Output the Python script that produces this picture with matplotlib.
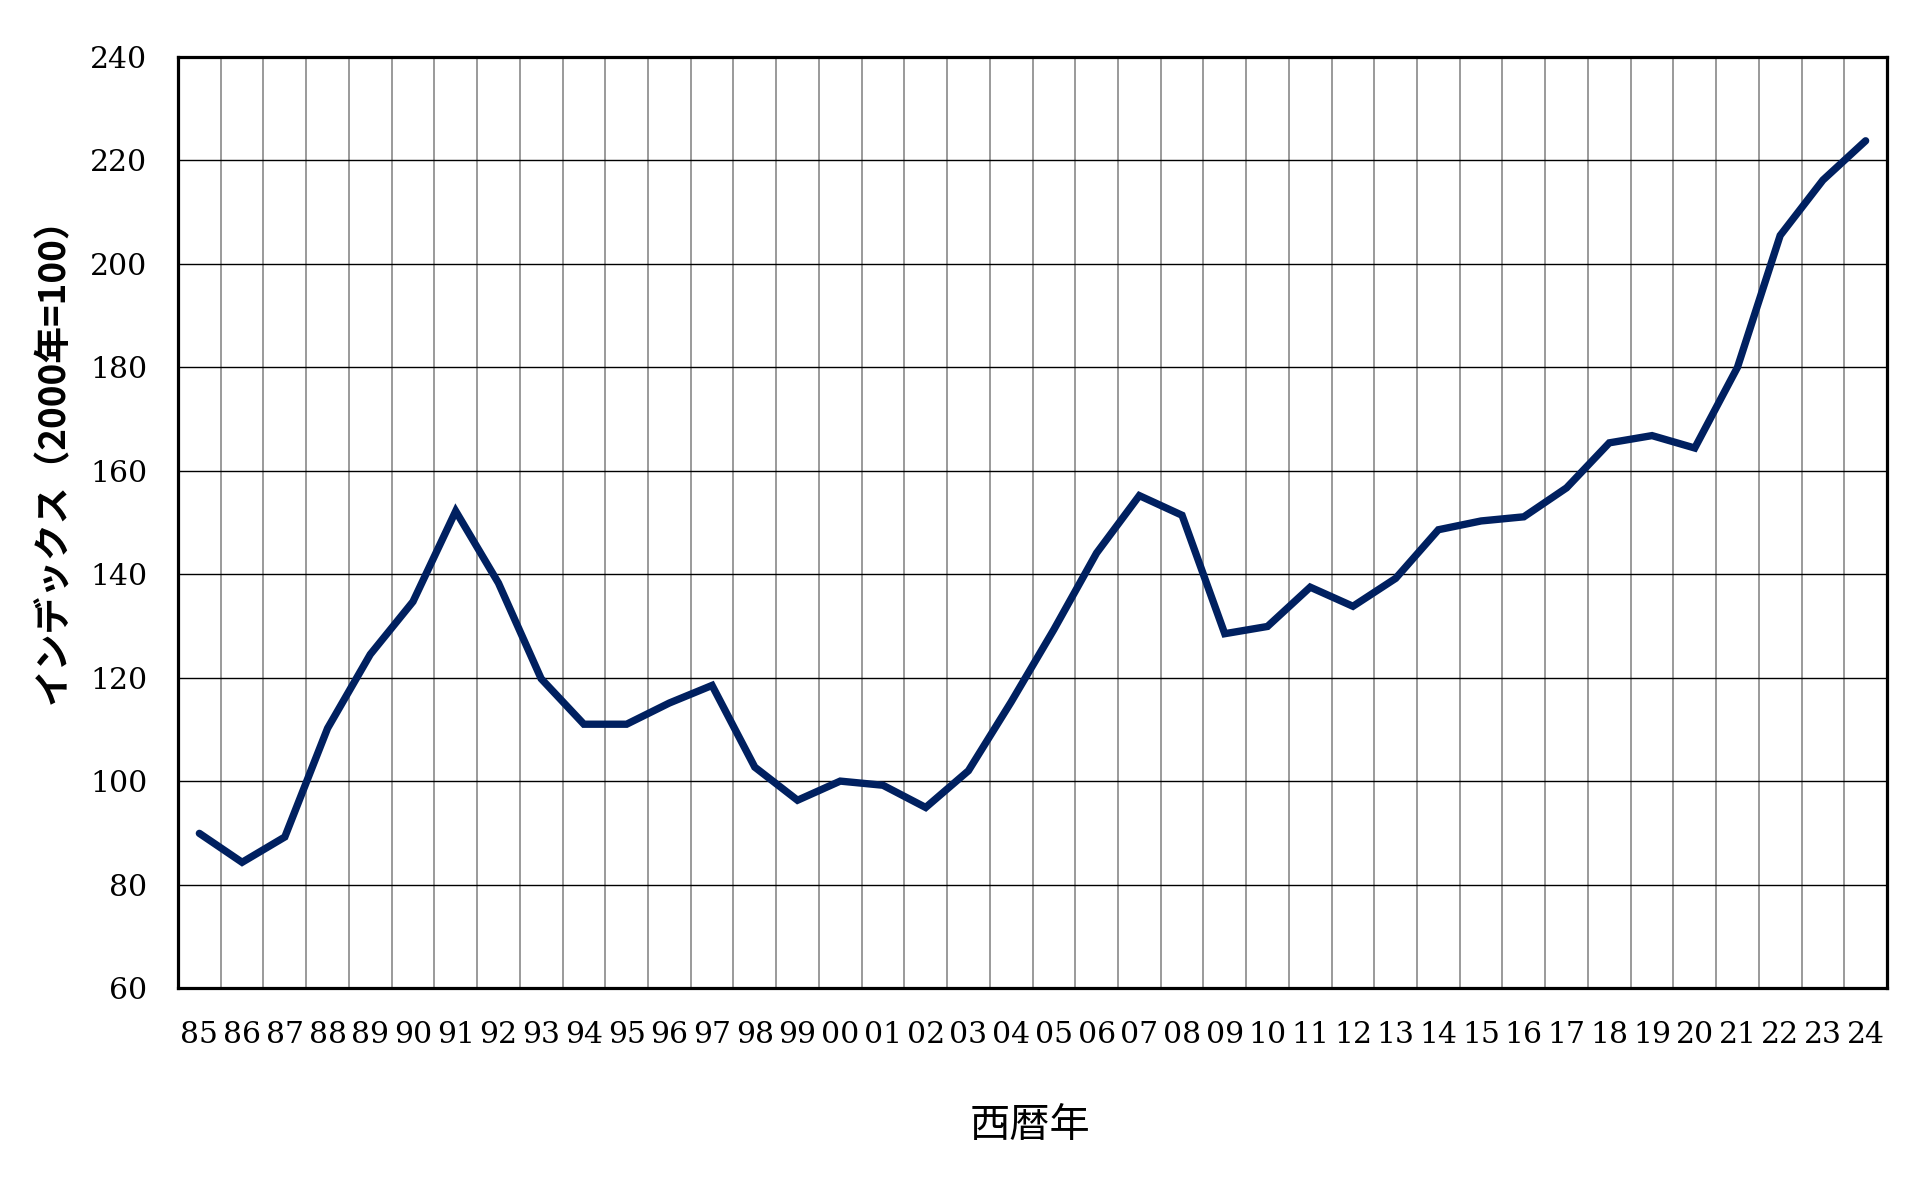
import matplotlib
matplotlib.use("Agg")
import matplotlib.pyplot as plt
from matplotlib.ticker import FixedLocator

years = ["85", "86", "87", "88", "89", "90", "91", "92", "93", "94",
         "95", "96", "97", "98", "99", "00", "01", "02", "03", "04",
         "05", "06", "07", "08", "09", "10", "11", "12", "13", "14",
         "15", "16", "17", "18", "19", "20", "21", "22", "23", "24"]
index_values = [89.9, 84.3, 89.2, 110.2, 124.5, 134.7, 152.2, 138.3, 119.8, 111.0,
                111.0, 115.1, 118.5, 102.7, 96.3, 100.0, 99.2, 94.9, 102.0, 115.3,
                129.3, 144.1, 155.2, 151.4, 128.5, 129.9, 137.5, 133.8, 139.2, 148.6,
                150.3, 151.1, 156.7, 165.4, 166.8, 164.4, 180.0, 205.5, 216.2, 223.8]
y_ticks = [60, 80, 100, 120, 140, 160, 180, 200, 220, 240]

W, H = 1920, 1180
fig = plt.figure(figsize=(W / 100, H / 100), dpi=100)
L, R, T, B = 178, 1887, 57, 988
ax = fig.add_axes([L / W, 1 - B / H, (R - L) / W, (B - T) / H])

x = list(range(len(years)))
ax.plot(x, index_values, color="#002060", linewidth=5.3, solid_joinstyle="miter",
        solid_capstyle="round", zorder=3)

ax.set_xlim(-0.5, len(years) - 0.5)
ax.set_ylim(60, 240)
ax.set_yticks(y_ticks)
ax.set_xticks(x)
ax.set_xticklabels(years)
ax.xaxis.set_minor_locator(FixedLocator([i + 0.5 for i in range(len(years) - 1)]))

ax.grid(axis="y", which="major", color="black", linewidth=1.0, zorder=1)
ax.grid(axis="x", which="minor", color="#7f7f7f", linewidth=1.1, zorder=1)
ax.grid(axis="x", which="major", visible=False)

for s in ax.spines.values():
    s.set_linewidth(2.3)
    s.set_color("black")
    s.set_zorder(4)

ax.tick_params(axis="both", which="both", length=0)
ax.tick_params(axis="x", pad=24)
ax.tick_params(axis="y", pad=22)
for lab in ax.get_xticklabels() + ax.get_yticklabels():
    lab.set_fontfamily("DejaVu Serif")
    lab.set_fontsize(21.5)

fig.text(54 / W, 1 - 452 / H, "インデックス（2000年=100）", rotation=90,
         ha="center", va="center", fontsize=26.5, fontweight="bold",
         family=["Noto Sans CJK JP", "DejaVu Sans"])
fig.text(1030 / W, 1 - 1126 / H, "西暦年", ha="center", va="center",
         fontsize=29, family=["Noto Sans CJK JP", "DejaVu Sans"])

fig.savefig("out.png", dpi=100, facecolor="white")
